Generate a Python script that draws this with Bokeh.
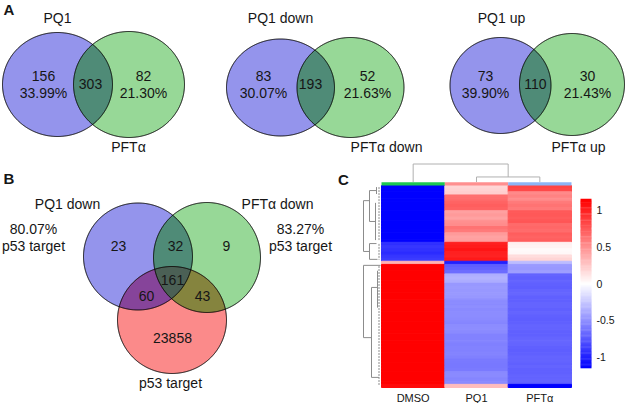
import numpy as np
from bokeh.plotting import figure
from bokeh.models import Range1d, ColumnDataSource
from bokeh.transform import linear_cmap
from bokeh.core.properties import value
from bokeh.embed import file_html
from bokeh.resources import INLINE

# ---------------- data ----------------
# Panel A: three two-set Venn diagrams
a_set1 = ["PQ1", "PQ1 down", "PQ1 up"]
a_set2 = ["PFTα", "PFTα down", "PFTα up"]
a_only1 = [156, 83, 73]
a_only1_pct = [33.99, 30.07, 39.90]
a_both = [303, 193, 110]
a_only2 = [82, 52, 30]
a_only2_pct = [21.30, 21.63, 21.43]

# Panel B: three-set Venn diagram
b_sets = ["PQ1 down", "PFTα down", "p53 target"]
b_only_pq1 = 23
b_pq1_pft = 32
b_only_pft = 9
b_all = 161
b_pq1_p53 = 60
b_pft_p53 = 43
b_only_p53 = 23858
b_pq1_pct = 80.07
b_pft_pct = 83.27

# Panel C: heatmap (z-scores per row)
hm_cols = ["DMSO", "PQ1", "PFTα"]
dmso = [-1.15, -1.15, -1.15, -1.15, -1.15, -1.15, -1.15, -1.15, -1.15,
        -1.15, -1.15, -1.15, -1.15, -1.15, -1.15, -1.15, -1.15, -1.15,
        -0.93, -0.90, -0.92, -0.95, -0.90, -0.88,
        0.35,
        1.15, 1.15, 1.15, 1.15, 1.15, 1.15, 1.15, 1.15, 1.15, 1.15,
        1.15, 1.15, 1.15, 1.15, 1.15, 1.15, 1.15, 1.15, 1.15, 1.15,
        1.15, 1.15, 1.15, 1.15, 1.15, 1.15, 1.15, 1.15, 1.15, 1.15,
        1.15, 1.15, 1.15, 1.15, 1.15, 1.15, 1.15, 1.15,
        1.10]
pq1 = [0.18, 0.20, 0.22, 0.64, 0.66, 0.70, 0.72, 0.70, 0.43,
       0.45, 0.42, 0.50, 0.52, 0.62, 0.60, 0.45, 0.42, 0.44,
       1.00, 1.02, 1.05, 1.00, 0.98, 1.03,
       -1.00,
       -0.72, -0.70, -0.66,
       -0.36, -0.35, -0.37,
       -0.46, -0.45, -0.46, -0.45, -0.46,
       -0.52, -0.52, -0.51, -0.53, -0.52, -0.52, -0.53, -0.54, -0.52, -0.51, -0.53,
       -0.56, -0.56, -0.55, -0.57, -0.56, -0.56, -0.55, -0.57,
       -0.60, -0.61, -0.61, -0.60,
       -0.53, -0.53, -0.54, -0.53,
       0.30]
pfta = [0.84, 0.82, 0.53, 0.55, 0.52, 0.60, 0.62, 0.60, 0.74,
        0.75, 0.73, 0.76, 0.67, 0.68, 0.66, 0.72, 0.70, 0.73,
        0.07, 0.05, 0.02, 0.03, 0.15, 0.18,
        -0.30,
        -0.45, -0.46, -0.44,
        -0.70, -0.71, -0.70, -0.71, -0.72, -0.70, -0.69, -0.71, -0.71, -0.70,
        -0.70, -0.71, -0.70, -0.71, -0.72, -0.71, -0.70, -0.70, -0.71, -0.71,
        -0.70, -0.69, -0.70, -0.71, -0.72, -0.71, -0.70, -0.70, -0.71, -0.70,
        -0.71, -0.71, -0.70, -0.70, -0.71,
        -1.15]
hm_low, hm_high = -1.15, 1.15
cb_ticks = [-1, -0.5, 0, 0.5, 1]
col_merge_heights = [0.28, 1.0]   # (PQ1,PFTα) then root with DMSO
ann_colors = ["#1ec850", "#ff8f8f", "#8cb4f5"]

# ---------------- layout (page px of the reference) ----------------
FONT = value("Liberation Sans")
TXT = "#161616"
BLUE, GREEN, RED = "#9494ec", "#97d897", "#fb8a8a"
OV_BG, OV_BR, OV_GR, OV_BGR = "#4f8b77", "#86449a", "#85843e", "#4b6055"

p = figure(width=627, height=403, x_range=Range1d(0, 627), y_range=Range1d(403, 0),
           x_axis_type=None, y_axis_type=None, toolbar_location=None,
           output_backend="svg", min_border=0, outline_line_color=None,
           background_fill_color="white", border_fill_color="white")


def ell(e, n=720):
    cx, cy, rx, ry = e
    t = np.linspace(0, 2 * np.pi, n, endpoint=False)
    return cx + rx * np.cos(t), cy + ry * np.sin(t)


def inside(x, y, e):
    cx, cy, rx, ry = e
    return ((x - cx) / rx) ** 2 + ((y - cy) / ry) ** 2 <= 1.0 + 1e-9


def region(es):
    xs, ys = [], []
    for i, e in enumerate(es):
        x, y = ell(e, 2000)
        m = np.ones_like(x, dtype=bool)
        for j, f in enumerate(es):
            if j != i:
                m &= inside(x, y, f)
        xs.append(x[m]); ys.append(y[m])
    x = np.concatenate(xs); y = np.concatenate(ys)
    cx, cy = x.mean(), y.mean()
    o = np.argsort(np.arctan2(y - cy, x - cx))
    return x[o], y[o]


def txt(xs, ys, texts, size="14px", bold=False, align="center"):
    p.text(x=xs, y=ys, text=texts, text_font=FONT, text_font_size=size,
           text_align=align, text_baseline="middle", text_color=TXT,
           text_font_style="bold" if bold else "normal")


# ---------- Panel A ----------
venn_a = [((57, 84, 55, 52), (128.5, 84, 55.5, 53)),
          ((280, 87, 54, 48.5), (350, 87, 53.5, 50)),
          ((500, 85, 50.5, 48), (571.5, 84, 52.5, 51))]
a_top_lab_x = [57, 280, 501]
a_bot_lab_x = [128, 386, 578]
a_only1_x = [43, 263, 485]
a_both_x = [90, 310, 535]
a_only2_x = [143, 367, 587]

for k, (e1, e2) in enumerate(venn_a):
    x, y = ell(e1); p.patch(x, y, fill_color=BLUE, line_color=None)
    x, y = ell(e2); p.patch(x, y, fill_color=GREEN, line_color=None)
    x, y = region([e1, e2]); p.patch(x, y, fill_color=OV_BG, line_color=None)
    for e in (e1, e2):
        x, y = ell(e); p.patch(x, y, fill_color=None, line_color="black", line_width=1)
    txt([a_top_lab_x[k]], [17], [a_set1[k]])
    txt([a_bot_lab_x[k]], [146], [a_set2[k]])
    txt([a_only1_x[k], a_only1_x[k]], [75, 92], [str(a_only1[k]), f"{a_only1_pct[k]:.2f}%"])
    txt([a_both_x[k]], [83], [str(a_both[k])])
    txt([a_only2_x[k], a_only2_x[k]], [75, 92], [str(a_only2[k]), f"{a_only2_pct[k]:.2f}%"])

txt([8.5], [9], ["A"], size="15px", bold=True)

# ---------- Panel B ----------
eA = (137.5, 256, 54.5, 53.5)
eB = (206.5, 257, 53.5, 55)
eC = (171.5, 319.5, 54.5, 53.5)
for e, c in ((eA, BLUE), (eB, GREEN), (eC, RED)):
    x, y = ell(e); p.patch(x, y, fill_color=c, line_color=None)
for es, c in (([eA, eB], OV_BG), ([eA, eC], OV_BR), ([eB, eC], OV_GR), ([eA, eB, eC], OV_BGR)):
    x, y = region(es); p.patch(x, y, fill_color=c, line_color=None)
for e in (eA, eB, eC):
    x, y = ell(e); p.patch(x, y, fill_color=None, line_color="black", line_width=1)

txt([67, 277, 170], [203, 203, 382], b_sets)
txt([33, 33], [228, 245], [f"{b_pq1_pct:.2f}%", "p53 target"])
txt([300, 300], [228, 245], [f"{b_pft_pct:.2f}%", "p53 target"])
txt([118, 175, 226, 172, 146, 202, 172], [245, 245, 245, 279, 295, 295, 337],
    [str(b_only_pq1), str(b_pq1_pft), str(b_only_pft), str(b_all),
     str(b_pq1_p53), str(b_pft_p53), str(b_only_p53)])
txt([8.5], [178], ["B"], size="15px", bold=True)

# ---------- Panel C ----------
hm_left, hm_right, hm_top, hm_bot = 381, 571, 185, 387
ncol, nrow = len(hm_cols), len(dmso)
colw = (hm_right - hm_left) / ncol
rowh = (hm_bot - hm_top) / nrow

palette = []
for i in range(256):
    t = i / 255
    if t < 0.5:
        s = t / 0.5
        palette.append("#%02x%02x%02x" % (int(255 * s), int(255 * s), 255))
    else:
        s = (t - 0.5) / 0.5
        palette.append("#%02x%02x%02x" % (255, int(255 * (1 - s)), int(255 * (1 - s))))

hx, hy, hv = [], [], []
for ci, col in enumerate([dmso, pq1, pfta]):
    for ri, v in enumerate(col):
        hx.append(hm_left + (ci + 0.5) * colw)
        hy.append(hm_top + (ri + 0.5) * rowh)
        hv.append(v)
src = ColumnDataSource(dict(x=hx, y=hy, v=hv))
cmap = linear_cmap("v", palette, hm_low, hm_high)
p.rect(x="x", y="y", width=colw, height=rowh, source=src,
       fill_color=cmap, line_color=cmap, line_width=1)

# annotation bar
ccx = [hm_left + (ci + 0.5) * colw for ci in range(ncol)]
p.rect(x=ccx, y=[hm_top - 1.6] * ncol, width=colw, height=3.2, fill_color=ann_colors, line_color=None)

# column dendrogram
base = hm_top - 3.5
s = 18.0
h1, h2 = col_merge_heights
mid12 = (ccx[1] + ccx[2]) / 2
p.multi_line(xs=[[ccx[1], ccx[1], ccx[2], ccx[2]],
                 [ccx[0], ccx[0], mid12, mid12]],
             ys=[[base, base - h1 * s, base - h1 * s, base],
                 [base, base - h2 * s, base - h2 * s, base - h1 * s]],
             line_color="#b0b0b0", line_width=1)

# row dendrogram, segments given as (height, row, height, row)
row_links = [
    (17, 4.8, 17, 20.9), (17, 4.8, 11, 4.8), (11, 1.6, 11, 11.4), (11, 1.6, 4, 1.6),
    (4, 0.5, 4, 2.7), (11, 11.4, 5, 11.4), (5, 5.5, 5, 17.3), (17, 20.9, 11, 20.9),
    (11, 18.4, 11, 23.4), (11, 18.4, 4, 18.4), (11, 23.4, 3, 23.4),
    (17, 25.3, 0, 25.3), (17, 25.3, 17, 48.2), (17, 48.2, 9, 48.2), (9, 32.3, 9, 60.8),
    (9, 32.3, 3, 32.3), (3, 27, 3, 38.7), (9, 60.8, 1.5, 60.8),
]
rx0 = hm_left - 1
p.multi_line(xs=[[rx0 - a, rx0 - c] for a, b, c, d in row_links],
             ys=[[hm_top + b * rowh, hm_top + d * rowh] for a, b, c, d in row_links],
             line_color="#8c8c8c", line_width=1)
leaf_spans = [(0.5, 17.5), (18.5, 23.5), (25.5, 63.5)]
p.multi_line(xs=[[rx0 - 1.5, rx0 - 1.5] for a, b in leaf_spans],
             ys=[[hm_top + a * rowh, hm_top + b * rowh] for a, b in leaf_spans],
             line_color="#8c8c8c", line_width=1, line_dash="2 1")

# column labels
txt(ccx, [397] * ncol, hm_cols, size="11px")

# colour bar
cb_x0, cb_x1, cb_top, cb_h = 580, 591, 199, 168
cvals = np.linspace(hm_low, hm_high, 140)
cys = [cb_top + (hm_high - v) / (hm_high - hm_low) * cb_h for v in cvals]
cb_src = ColumnDataSource(dict(
    x=[(cb_x0 + cb_x1) / 2] * len(cvals), y=cys,
    c=[palette[int(round((v - hm_low) / (hm_high - hm_low) * 255))] for v in cvals]))
p.rect(x="x", y="y", width=cb_x1 - cb_x0, height=cb_h / (len(cvals) - 1) + 0.4,
       source=cb_src, fill_color="c", line_color=None)
tys = [cb_top + (hm_high - v) / (hm_high - hm_low) * cb_h for v in cb_ticks]
txt([596] * len(cb_ticks), tys, [f"{v:g}" for v in cb_ticks], size="10.5px", align="left")

txt([343], [179], ["C"], size="15px", bold=True)

open("out.html", "w").write(file_html(p, INLINE))
